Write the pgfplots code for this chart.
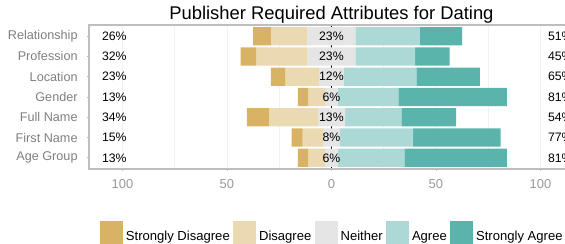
\documentclass[border=0pt]{standalone}
\usepackage{pgfplots}
\pgfplotsset{compat=1.18}
\usepackage{pgfplotstable}
\usepackage{fontspec}
\setmainfont{Liberation Sans}
\definecolor{csd}{HTML}{D8B365}
\definecolor{cd}{HTML}{EBD9B2}
\definecolor{cn}{HTML}{E5E5E5}
\definecolor{ca}{HTML}{ACD9D5}
\definecolor{csa}{HTML}{5AB4AC}
\definecolor{gridc}{HTML}{F2F2F2}
\definecolor{borderc}{HTML}{BEBEBE}
\definecolor{ylab}{HTML}{7F7F7F}
\definecolor{xlab}{HTML}{999999}
\pgfplotstableread{
y off sd d n a sa
7 -37.5 8.5 17.5 23 30.8 20.2
6 -43.5 7.6 24.4 23 28.5 16.5
5 -29 7 16 12 34.7 30.3
4 -16 5 8 6 29 52
3 -40.5 10.6 23.4 13 27 26.2
2 -19 5.2 9.8 8 34.8 42.2
1 -16 4.8 8.2 6 31.9 49
}\data
\newcommand\pct{\fontsize{9.2}{11}\selectfont}
\pgfplotsset{sqleg/.style={legend image code/.code={\fill[##1] (0pt,-5.1pt) rectangle (17.25pt,12.1pt);}}}
\begin{document}
\begin{tikzpicture}
\begin{axis}[
 scale only axis, width=363.7pt, height=108pt,
 xmin=-116, xmax=116, ymin=0.45, ymax=7.55,
 hide axis, clip=false,
]
\addplot[black, line width=0.8pt] coordinates {(0,0.45) (0,7.55)};
\end{axis}
\begin{axis}[
 scale only axis, width=363.7pt, height=108pt,
 xmin=-116, xmax=116, ymin=0.45, ymax=7.55,
 xbar stacked, stack negative=on previous, bar width=0.9,
 xtick={-100,-50,0,50,100}, xticklabels={100,50,0,50,100},
 minor xtick={-100,-75,-50,-25,25,50,75,100},
 ytick={1,...,7},
 yticklabels={Age Group, First Name, Full Name, Gender, Location, Profession, Relationship},
 xminorgrids,
 minor grid style={gridc, line width=0.5pt},
 axis line style={borderc, line width=1.1pt},
 tick pos=left, tick align=outside, major tick length=1.5pt, minor tick length=0pt,
 tick style={borderc, line width=0.6pt},
 yticklabel style={font=\fontsize{9.5}{11}\selectfont, text=ylab, xshift=-3.5pt},
 xticklabel style={font=\fontsize{9.7}{11}\selectfont, text=xlab, yshift=-3pt},
 /pgf/number format/assume math mode=true,
 legend columns=5,
 legend entries={,Strongly Disagree,Disagree,Neither,Agree,Strongly Agree},
 legend style={at={(0.5,-0.358)}, anchor=north, draw=none, fill=none, inner sep=0pt,
   font=\fontsize{9.8}{11}\selectfont,
   /tikz/every odd column/.append style={column sep=2pt},
   /tikz/every even column/.append style={column sep=2.7pt},
   nodes={inner sep=0pt}},
 clip=false,
]
\addplot[draw=none, fill=none, sqleg] table[x=off, y=y] {\data};
\addplot[draw=none, fill=csd, sqleg] table[x=sd, y=y] {\data};
\addplot[draw=none, fill=cd, sqleg] table[x=d, y=y] {\data};
\addplot[draw=none, fill=cn, sqleg] table[x=n, y=y] {\data};
\addplot[draw=none, fill=ca, sqleg] table[x=a, y=y] {\data};
\addplot[draw=none, fill=csa, sqleg] table[x=sa, y=y] {\data};
\node[anchor=base, yshift=4.4pt, font=\fontsize{13.8}{16}\selectfont] at (axis description cs:0.5,1) {Publisher Required Attributes for Dating};
\coordinate (BL) at (rel axis cs:-0.1835,-0.5208);
\coordinate (TR) at (rel axis cs:0.9817,1.1736);
\end{axis}
\begin{axis}[
 scale only axis, width=363.7pt, height=108pt,
 xmin=-116, xmax=116, ymin=0.45, ymax=7.55,
 hide axis, clip=false,
]
% left labels
\node[anchor=west, font=\pct] at (axis cs:-112,7) {26\%};
\node[anchor=west, font=\pct] at (axis cs:-112,6) {32\%};
\node[anchor=west, font=\pct] at (axis cs:-112,5) {23\%};
\node[anchor=west, font=\pct] at (axis cs:-112,4) {13\%};
\node[anchor=west, font=\pct] at (axis cs:-112,3) {34\%};
\node[anchor=west, font=\pct] at (axis cs:-112,2) {15\%};
\node[anchor=west, font=\pct] at (axis cs:-112,1) {13\%};
% center labels
\node[font=\pct] at (axis cs:0,7) {23\%};
\node[font=\pct] at (axis cs:0,6) {23\%};
\node[font=\pct] at (axis cs:0,5) {12\%};
\node[font=\pct] at (axis cs:0,4) {6\%};
\node[font=\pct] at (axis cs:0,3) {13\%};
\node[font=\pct] at (axis cs:0,2) {8\%};
\node[font=\pct] at (axis cs:0,1) {6\%};
% right labels
\node[anchor=west, font=\pct] at (axis cs:101.4,7) {51\%};
\node[anchor=west, font=\pct] at (axis cs:101.4,6) {45\%};
\node[anchor=west, font=\pct] at (axis cs:101.4,5) {65\%};
\node[anchor=west, font=\pct] at (axis cs:101.4,4) {81\%};
\node[anchor=west, font=\pct] at (axis cs:101.4,3) {54\%};
\node[anchor=west, font=\pct] at (axis cs:101.4,2) {77\%};
\node[anchor=west, font=\pct] at (axis cs:101.4,1) {81\%};
\end{axis}
\pgfresetboundingbox
\useasboundingbox (BL) rectangle (TR);
\end{tikzpicture}
\end{document}
